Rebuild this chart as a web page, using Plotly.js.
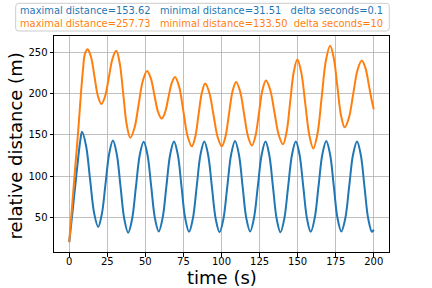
<!DOCTYPE html>
<html>
<head>
<meta charset="utf-8">
<script src="https://cdn.plot.ly/plotly-3.0.1.min.js"></script>
<style>html,body{margin:0;padding:0;background:#fff;}#chart{width:432px;height:288px;}</style>
</head>
<body>
<div id="chart"></div>
<script>
// Blue series: delta seconds = 0.1
const timeBlue = [0,2,4,6,7.2,8.4,11.05,13.7,16.35,19.0,21.4,23.85,26.3,28.7,31.2,33.7,36.2,38.7,41.25,43.8,46.35,48.9,51.4,53.85,56.3,58.8,61.3,63.8,66.3,68.8,71.3,73.75,76.2,78.7,81.2,83.7,86.2,88.7,91.2,93.7,96.2,98.7,101.25,103.8,106.35,108.9,111.4,113.85,116.3,118.8,121.3,123.85,126.4,128.9,131.35,133.8,136.25,138.7,141.2,143.75,146.3,148.8,151.25,153.7,156.15,158.6,161.15,163.7,166.25,168.8,171.3,173.75,176.2,178.7,181.3,183.85,186.4,189.0,191.45,193.9,196.35,198.8,200];
const distBlue = [20,54,89,124,142,153.6,136.8,96.0,55.3,38.5,53.8,90.8,127.7,143,126.7,87.2,47.8,31.5,47.6,86.8,125.9,141.5,125.7,87.2,48.8,33,48.9,87.5,126.1,142,126,87.2,48.5,32.5,48.5,87.0,126.0,142,125.9,87.0,48.1,32,48.1,87.3,126.4,142.5,126.5,87.8,49.0,33,48.9,87.5,126.1,142,125.9,87.0,48.1,32,48.1,87.0,125.9,142,126.0,87.2,48.5,32.5,48.6,87.5,126.4,142.5,126.5,87.8,49.0,33,48.9,87.5,126.1,142,126.0,87.2,48.5,32.5,35];

// Orange series: delta seconds = 10
const timeOrange = [0,2,4,5.7,7.7,9.0,10.3,12.1,14.35,16.6,18.85,21.1,23.55,26.0,28.45,30.9,33.2,35.5,37.8,40.1,42.85,45.6,48.35,51.1,53.5,55.9,58.3,60.7,62.9,65.1,67.3,69.5,72.25,75.0,77.75,80.5,82.7,84.9,87.1,89.3,92.0,94.75,97.5,100.2,102.55,104.9,107.25,109.6,112.2,114.8,117.4,120.0,122.3,124.6,126.9,129.2,132.0,134.8,137.6,140.4,142.75,145.1,147.45,149.8,152.4,155.05,157.7,160.3,163.05,165.8,168.55,171.3,173.7,176.1,178.5,180.9,183.7,186.5,189.3,192.1,194.5,197,198.5,200];
const distOrange = [20,66,112,150,200,228,248,253.6,243.9,220.4,196.9,187.2,196.6,219.4,242.2,251.6,236.2,199.0,161.8,146.4,158.2,186.8,215.4,227.2,218.8,198.4,178.0,169.6,177.0,194.8,212.6,220.0,207.7,178.0,148.3,136.0,147.1,174.0,200.9,212.0,200.9,174.0,147.1,136.0,147.4,175.0,202.6,214.0,202.8,175.5,148.2,137.0,148.5,176.3,204.1,215.6,204.3,177.0,149.8,138.5,153.5,189.8,226.0,241.0,225.3,187.2,149.2,133.5,151.6,195.6,239.6,257.7,243.3,208.3,173.4,159.0,170.8,199.5,228.2,240.0,231,208,193,181];

const xTicks = [0,25,50,75,100,125,150,175,200];
const yTicks = [50,100,150,200,250];
const xTitle = 'time (s)';
const yTitle = 'relative distance (m)';
const legendLine1 = "maximal distance=153.62   minimal distance=31.51   delta seconds=0.1";
const legendLine2 = "maximal distance=257.73   minimal distance=133.50  delta seconds=10";

const BLUE = '#1f77b4', ORANGE = '#ff7f0e';
const FONT = 'DejaVu Sans, Liberation Sans, sans-serif';

const traces = [
  {x: timeBlue, y: distBlue, type: 'scatter', mode: 'lines',
   line: {color: BLUE, width: 2, shape: 'spline', smoothing: 1}, showlegend: false, hoverinfo: 'skip'},
  {x: timeOrange, y: distOrange, type: 'scatter', mode: 'lines',
   line: {color: ORANGE, width: 2, shape: 'spline', smoothing: 1}, showlegend: false, hoverinfo: 'skip'}
];

const ml = 54, mr = 43, mt = 36, mb = 36;
const W = 432, H = 288, pw = W - ml - mr, ph = H - mt - mb;
const px = v => (v - ml) / pw;
const py = v => (H - mb - v) / ph;

// rounded legend box
const bx0 = px(15.7), bx1 = px(389.3), by1 = py(3.3), by0 = py(31);
const rx = 3 / pw, ry = 3 / ph;
const boxPath = `M ${bx0+rx},${by1} L ${bx1-rx},${by1} Q ${bx1},${by1} ${bx1},${by1-ry} L ${bx1},${by0+ry} Q ${bx1},${by0} ${bx1-rx},${by0} L ${bx0+rx},${by0} Q ${bx0},${by0} ${bx0},${by0+ry} L ${bx0},${by1-ry} Q ${bx0},${by1} ${bx0+rx},${by1} Z`;

const nb = s => s.replace(/ /g, '\u00a0');

const axisCommon = {
  showline: true, linecolor: '#000', linewidth: 1, mirror: true,
  ticks: 'outside', ticklen: 3.5, tickwidth: 1, tickcolor: '#000',
  showgrid: true, gridcolor: '#b0b0b0', gridwidth: 0.8,
  zeroline: false, tickfont: {family: FONT, size: 10, color: '#000'},
  automargin: false
};

const layout = {
  width: W, height: H,
  margin: {l: ml, r: mr, t: mt, b: mb, pad: 0},
  paper_bgcolor: '#fff', plot_bgcolor: '#fff',
  showlegend: false,
  xaxis: Object.assign({}, axisCommon, {
    range: [-10, 210], tickmode: 'array', tickvals: xTicks, ticktext: xTicks.map(String),
    ticklabelstandoff: -4
  }),
  yaxis: Object.assign({}, axisCommon, {
    range: [8.1, 269.6], tickmode: 'array', tickvals: yTicks, ticktext: yTicks.map(String)
  }),
  shapes: [{type: 'path', xref: 'paper', yref: 'paper', path: boxPath,
            line: {color: '#cccccc', width: 1}, fillcolor: 'rgba(255,255,255,0.8)', layer: 'above'}],
  annotations: [
    {xref: 'paper', yref: 'paper', x: px(18.3), y: py(10.5), xanchor: 'left', yanchor: 'middle',
     text: nb(legendLine1), showarrow: false, font: {family: FONT, size: 9.9, color: BLUE}},
    {xref: 'paper', yref: 'paper', x: px(18.3), y: py(23), xanchor: 'left', yanchor: 'middle',
     text: nb(legendLine2), showarrow: false, font: {family: FONT, size: 9.9, color: ORANGE}},
    {xref: 'paper', yref: 'paper', x: px(221.5), y: py(277.5), xanchor: 'center', yanchor: 'middle',
     text: xTitle, showarrow: false, font: {family: FONT, size: 18, color: '#000'}},
    {xref: 'paper', yref: 'paper', x: px(15), y: py(146.5), xanchor: 'center', yanchor: 'middle',
     text: yTitle, textangle: -90, showarrow: false, font: {family: FONT, size: 18, color: '#000'}}
  ]
};

Plotly.newPlot('chart', traces, layout, {staticPlot: true, displayModeBar: false});
</script>
</body>
</html>
